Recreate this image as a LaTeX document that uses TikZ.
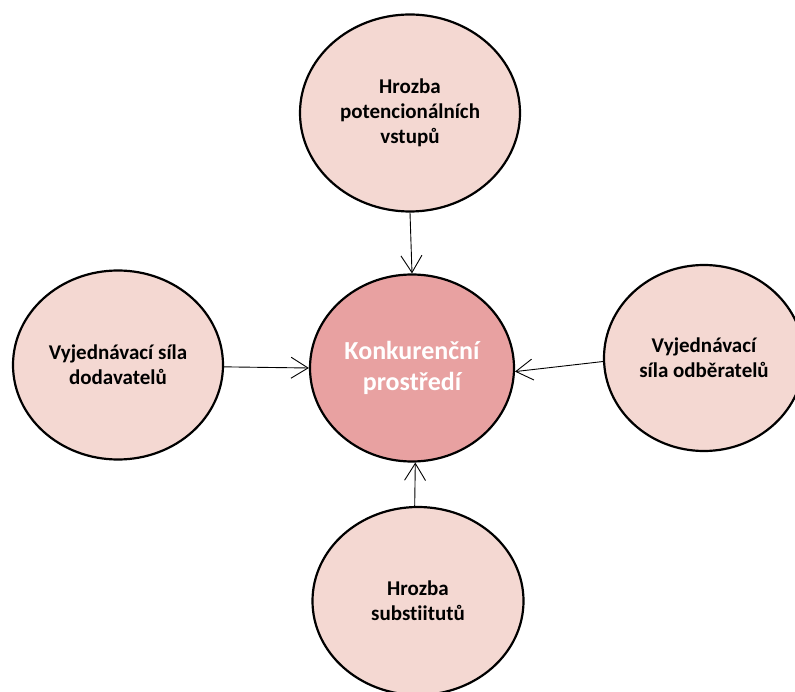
\documentclass[tikz,border=0pt]{standalone}
\usepackage{fontspec}
\setmainfont[Ligatures=NoCommon]{Carlito}
\usetikzlibrary{shapes.geometric,arrows.meta}
\definecolor{forcefill}{RGB}{244,216,210}
\definecolor{corefill}{RGB}{232,161,161}
\tikzset{
    force/.style={ellipse, draw, line width=2.2pt, fill=forcefill, inner sep=0pt,
        align=center, font=\bfseries\fontsize{21}{25}\selectfont},
    core/.style={ellipse, draw, line width=2.2pt, fill=corefill, inner sep=0pt,
        align=center, text=white, font=\bfseries\fontsize{26}{31}\selectfont},
    push/.style={line width=0.9pt, -{Straight Barb[length=17pt,width=21pt]}}
}
\begin{document}
\begin{tikzpicture}[x=1pt,y=-1pt]
    \useasboundingbox (0,0) rectangle (795,692);

    \node [core, minimum width=204pt, minimum height=187pt] (prostredi) at (412,368) {Konkurenční\\prostředí};

    \node [force, minimum width=220pt, minimum height=197pt] (vstupy) at (410,113) {Hrozba\\potencionálních\\vstupů};
    \node [force, minimum width=210pt, minimum height=189pt] (dodavatele) at (118,365) {Vyjednávací síla\\dodavatelů};
    \node [force, minimum width=200pt, minimum height=186pt] (odberatele) at (704,358) {Vyjednávací\\síla odběratelů};
    \node [force, minimum width=211pt, minimum height=188pt] (substituty) at (418,601) {Hrozba\\substiitutů};

    \draw [push] (vstupy.south) -- (prostredi.north);
    \draw [push] (dodavatele.359) -- (prostredi.west);
    \draw [push] (odberatele.182) -- (prostredi.358);
    \draw [push] (substituty.92) -- (prostredi.272);
\end{tikzpicture}
\end{document}
